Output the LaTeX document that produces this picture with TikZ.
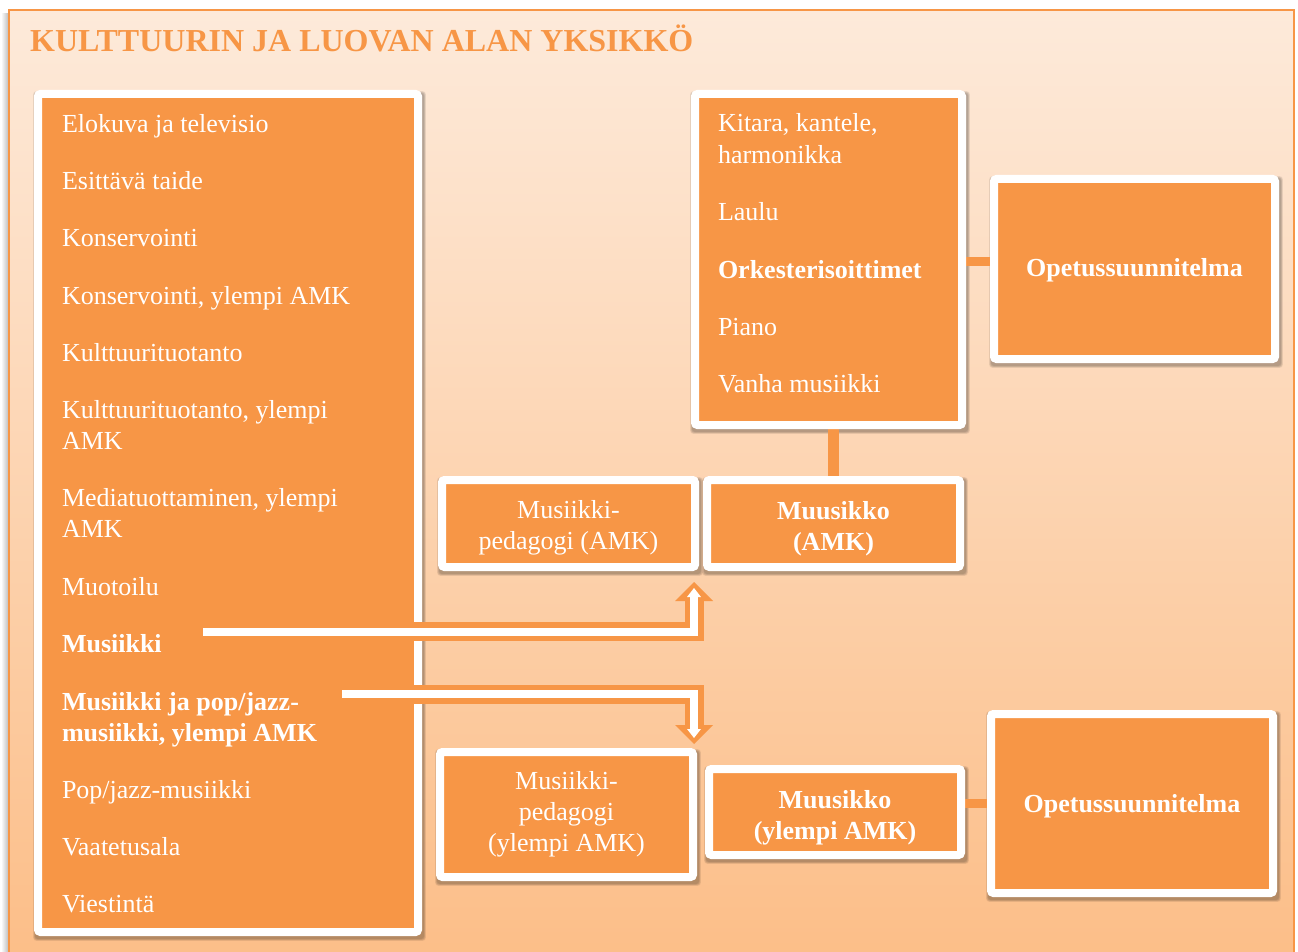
\documentclass[tikz,border=0pt]{standalone}
\usepackage{fontspec}
\setmainfont{Liberation Serif}
\usetikzlibrary{calc}
\definecolor{accent}{RGB}{247,150,70}
\definecolor{pagetop}{RGB}{253,234,218}
\definecolor{pagebot}{RGB}{252,190,136}
\pgfdeclarelayer{backdrop}
\pgfdeclarelayer{shade}
\pgfsetlayers{backdrop,shade,main}

% soft drop shadow behind a white-framed card
\newcommand\cardshadow[1]{%
  \begin{pgfonlayer}{shade}
    \foreach \g in {0,1,2,3}{
      \fill[black, opacity=0.08, rounded corners=3pt]
        ($(#1.north west)+(-3-\g*0.6,-1-\g*0.6)$) rectangle
        ($(#1.south east)+(6+\g*0.6,7+\g*0.6)$);
    }
  \end{pgfonlayer}}
% invisible strut that lowers the text block of a card
\newcommand\lift[1]{\rule{0pt}{#1pt}}

\begin{document}
\begin{tikzpicture}[x=1pt,y=-1pt,
  card/.style={fill=accent, draw=white, line width=8pt, rounded corners=2.5pt,
    inner sep=0pt, outer sep=0pt, text=white, align=center,
    font=\fontsize{26}{31}\selectfont},
  boldcard/.style={card, font=\fontsize{26}{31}\selectfont\bfseries},
  listtext/.style={anchor=base west, inner sep=0pt, outer sep=0pt, text=white,
    font=\fontsize{26}{31}\selectfont},
  strong/.style={font=\fontsize{26}{31}\selectfont\bfseries},
  link/.style={draw=accent, line width=#1},
  flowout/.style={draw=accent, line width=19pt},
  flowcore/.style={draw=white, line width=8pt}
]
\useasboundingbox (0,0) rectangle (1298,952);
\clip (0,0) rectangle (1298,952);

% page background with gradient panel
\begin{pgfonlayer}{backdrop}
  \fill[white] (0,0) rectangle (1298,952);
  \shade[left color=white, right color=black!28] (1,14) rectangle (9,960);
  \shade[top color=pagetop, bottom color=pagebot] (9,10) rectangle (1294,960);
  \draw[accent, line width=2pt] (9,10) rectangle (1294,960);
\end{pgfonlayer}

\node[anchor=base west, inner sep=0pt, text=accent,
  font=\fontsize{32}{38}\selectfont\bfseries] (title) at (30,52)
  {KULTTUURIN JA LUOVAN ALAN YKSIKKÖ};

% cards
\node[card, minimum width=380pt, minimum height=838pt] (fields) at (228,513) {};
\node[card, minimum width=267pt, minimum height=331pt] (instr) at (828.5,259.5) {};
\node[boldcard, minimum width=281pt, minimum height=180pt]
  (plan1) at (1134.5,269) {\lift{19.6}Opetussuunnitelma};
\node[card, minimum width=253pt, minimum height=87pt] (ped1) at (568.5,523.5)
  {\lift{26.8}Musiikki-\\pedagogi (AMK)};
\node[boldcard, minimum width=253pt, minimum height=87pt]
  (mus1) at (833.5,523.5) {\lift{28.6}Muusikko\\(AMK)};
\node[card, minimum width=253pt, minimum height=125pt] (ped2) at (566.5,814.5)
  {Musiikki-\\pedagogi\\(ylempi AMK)};
\node[boldcard, minimum width=252pt, minimum height=86pt]
  (mus2) at (835,812) {\lift{28.6}Muusikko\\(ylempi AMK)};
\node[boldcard, minimum width=282pt, minimum height=179pt]
  (plan2) at (1132,803.5) {\lift{23.6}Opetussuunnitelma};

\foreach \c in {fields,instr,plan1,ped1,mus1,ped2,mus2,plan2}{\cardshadow{\c}}

% connectors between cards
\begin{pgfonlayer}{shade}
  \draw[link=11pt] (mus1.north |- instr.south) -- (mus1.north);
  \draw[link=9pt] ($(instr.east)+(0,2)$) -- ($(plan1.west |- instr.east)+(0,2)$);
  \draw[link=9pt] (plan2.west) -- (mus2.east |- plan2.west);
\end{pgfonlayer}

% list of degree programmes
\node[listtext] (f1) at (62,133) {Elokuva ja televisio};
\node[listtext] (f2) at (62,190) {Esittävä taide};
\node[listtext] (f3) at (62,247) {Konservointi};
\node[listtext] (f4) at (62,304) {Konservointi, ylempi AMK};
\node[listtext] (f5) at (62,361) {Kulttuurituotanto};
\node[listtext] (f6a) at (62,418) {Kulttuurituotanto, ylempi};
\node[listtext] (f6b) at (62,449) {AMK};
\node[listtext] (f7a) at (62,506) {Mediatuottaminen, ylempi};
\node[listtext] (f7b) at (62,537) {AMK};
\node[listtext] (f8) at (62,595) {Muotoilu};
\node[listtext, strong] (f9) at (62,652) {Musiikki};
\node[listtext, strong] (f10a) at (62,710) {Musiikki ja pop/jazz-};
\node[listtext, strong] (f10b) at (62,741) {musiikki, ylempi AMK};
\node[listtext] (f11) at (62,798) {Pop/jazz-musiikki};
\node[listtext] (f12) at (62,855) {Vaatetusala};
\node[listtext] (f13) at (62,912) {Viestintä};

% instrument groups
\node[listtext] (i1a) at (718,132) {Kitara, kantele,};
\node[listtext] (i1b) at (718,163.5) {harmonikka};
\node[listtext] (i2) at (718,220) {Laulu};
\node[listtext, strong] (i3) at (718,278) {Orkesterisoittimet};
\node[listtext] (i4) at (718,335) {Piano};
\node[listtext] (i5) at (718,392) {Vanha musiikki};

% arrows from the music programmes to the degrees
\coordinate (u0) at (203,631.5);
\coordinate (u1) at (694,631.5);
\coordinate (u2) at (694,600);
\coordinate (u3) at (694,596);
\coordinate (utip) at (694,582);
\draw[flowout] (u0) -- (u1) -- (u2);
\fill[accent] ($(u2)+(-19,1)$) -- ($(u2)+(19,1)$) -- (utip) -- cycle;
\draw[flowcore] (u0) -- (u1) -- (u3);
\fill[white] ($(u3)+(-7,1)$) -- ($(u3)+(7,1)$) -- ($(utip)+(0,6)$) -- cycle;

\coordinate (d0) at (342,694);
\coordinate (d1) at (694,694);
\coordinate (d2) at (694,726);
\coordinate (d3) at (694,730);
\coordinate (dtip) at (694,744);
\draw[flowout] (d0) -- (d1) -- (d2);
\fill[accent] ($(d2)+(-19,-1)$) -- ($(d2)+(19,-1)$) -- (dtip) -- cycle;
\draw[flowcore] (d0) -- (d1) -- (d3);
\fill[white] ($(d3)+(-7,-1)$) -- ($(d3)+(7,-1)$) -- ($(dtip)+(0,-6)$) -- cycle;
\end{tikzpicture}
\end{document}
